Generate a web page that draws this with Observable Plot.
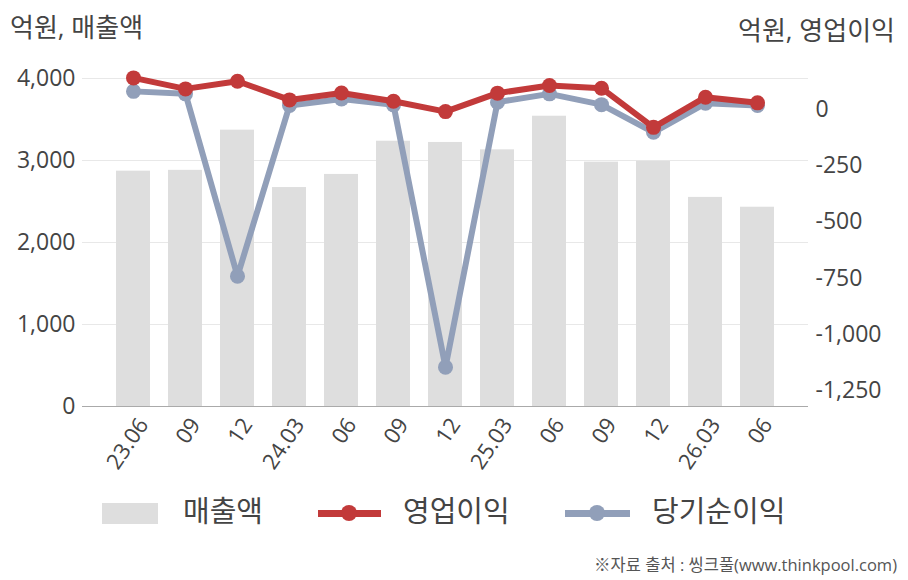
<!DOCTYPE html>
<html>
<head>
<meta charset="utf-8">
<script src="https://cdn.jsdelivr.net/npm/d3@7"></script>
<script src="https://cdn.jsdelivr.net/npm/@observablehq/plot@0.6"></script>
<style>
  html, body { margin: 0; padding: 0; background: #fff; }
  #wrap { position: relative; width: 908px; height: 580px; overflow: hidden; background: #fff;
          font-family: "Open Sans", "Noto Sans CJK KR", sans-serif; color: #444; }
  #chart { position: absolute; left: 0; top: 0; }
  .abs { position: absolute; white-space: nowrap; line-height: 1; }
  .ttl { font-size: 26px; color: #444; }
  .leg { font-size: 29px; color: #444; }
  .cap { font-size: 16.5px; color: #555; }
</style>
</head>
<body>
<div id="wrap">
  <div id="chart"></div>
  <div class="abs ttl" style="left:10px; top:14px;">억원, 매출액</div>
  <div class="abs ttl" style="right:13px; top:17px;">억원, 영업이익</div>

  <div class="abs" style="left:102px; top:503px; width:56px; height:21px; background:#dedede;"></div>
  <div class="abs leg" style="left:183px; top:496px;">매출액</div>

  <div class="abs" style="left:318px; top:510px; width:63px; height:7px; background:#c23a3a;"></div>
  <div class="abs" style="left:341px; top:505px; width:16px; height:16px; border-radius:50%; background:#c23a3a;"></div>
  <div class="abs leg" style="left:403px; top:496px;">영업이익</div>

  <div class="abs" style="left:565px; top:510px; width:65px; height:7px; background:#919fb9;"></div>
  <div class="abs" style="left:589px; top:505px; width:16px; height:16px; border-radius:50%; background:#919fb9;"></div>
  <div class="abs leg" style="left:652px; top:496px;">당기순이익</div>

  <div class="abs cap" style="right:11px; top:557px;">※자료 출처 : 씽크풀(www.thinkpool.com)</div>
</div>
<script>
const periods = ["23.06","23.09","23.12","24.03","24.06","24.09","24.12","25.03","25.06","25.09","25.12","26.03","26.06"];
const tickLabels = ["23.06","09","12","24.03","06","09","12","25.03","06","09","12","26.03","06"];
const revenue = [2870, 2880, 3370, 2670, 2830, 3235, 3220, 3130, 3540, 2980, 2990, 2550, 2430];
const opProfit = [141, 92, 126, 43, 74, 37, -9, 73, 107, 95, -79, 55, 30];
const netProfit = [81, 70, -741, 18, 47, 21, -1146, 33, 70, 22, -101, 28, 18];
const leftTicks = [0, 1000, 2000, 3000, 4000];
const rightTicks = [0, -250, -500, -750, -1000, -1250];

// right-axis value -> left-axis units
const R0 = 3621, RK = 2.741;
const toLeft = r => R0 + RK * r;
const fromLeft = v => Math.round((v - R0) / RK);
const fmtR = r => (r < 0 ? "-" : "") + d3.format(",")(Math.abs(r));

const rows = periods.map((p, i) => ({p, rev: revenue[i], op: opProfit[i], net: netProfit[i]}));

const chart = Plot.plot({
  width: 908,
  height: 480,
  marginTop: 78,
  marginBottom: 74,
  marginLeft: 82,
  marginRight: 100,
  style: {fontFamily: "'Open Sans', 'Noto Sans CJK KR', sans-serif", fontSize: "22px", color: "#444", background: "transparent", overflow: "visible"},
  x: {type: "band", domain: periods, paddingInner: 0.35, paddingOuter: 0.633, align: 0.5},
  y: {domain: [0, 4000]},
  marks: [
    Plot.ruleY(leftTicks.slice(1), {stroke: "#e8e8e8", strokeWidth: 1}),
    Plot.barY(rows, {x: "p", y: "rev", fill: "#dedede"}),
    Plot.ruleY([0], {stroke: "#aaaaaa", strokeWidth: 1.2}),
    Plot.lineY(rows, {x: "p", y: d => toLeft(d.net), stroke: "#919fb9", strokeWidth: 6}),
    Plot.dot(rows, {x: "p", y: d => toLeft(d.net), fill: "#919fb9", r: 7.5}),
    Plot.lineY(rows, {x: "p", y: d => toLeft(d.op), stroke: "#c23a3a", strokeWidth: 6}),
    Plot.dot(rows, {x: "p", y: d => toLeft(d.op), fill: "#c23a3a", r: 7.5}),
    Plot.axisY(leftTicks, {anchor: "left", tickSize: 0, tickPadding: 7, tickFormat: d3.format(","), fontSize: 23, label: null}),
    Plot.axisY(rightTicks.map(toLeft), {anchor: "right", tickSize: 0, tickPadding: 7, tickFormat: v => fmtR(fromLeft(v)), fontSize: 23, label: null}),
    Plot.axisX(periods, {anchor: "bottom", tickSize: 0, tickPadding: 8, tickRotate: -56, dx: 10, dy: 6, tickFormat: d => tickLabels[periods.indexOf(d)], fontSize: 22, label: null})
  ]
});
document.getElementById("chart").appendChild(chart);
</script>
</body>
</html>
